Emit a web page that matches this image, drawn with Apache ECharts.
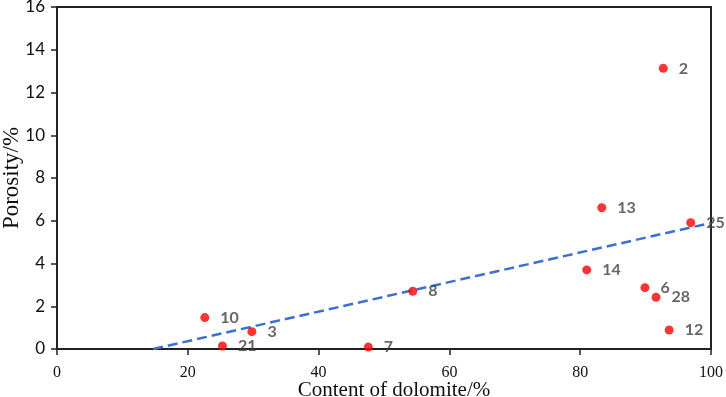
<!DOCTYPE html>
<html>
<head>
<meta charset="utf-8">
<script src="https://cdn.jsdelivr.net/npm/echarts@6/dist/echarts.min.js"></script>
<style>
  html, body { margin: 0; padding: 0; background: #fff; }
  #chart { width: 726px; height: 397px; }
</style>
</head>
<body>
<div id="chart"></div>
<script>
// sample numbers shown next to each dot
var sampleNames = ['2', '13', '25', '14', '6', '28', '12', '8', '7', '3', '10', '21'];
// dolomite content (%)
var dolomite = [92.7, 83.3, 96.9, 81.0, 89.9, 91.6, 93.6, 54.4, 47.6, 29.8, 22.6, 25.3];
// porosity (%)
var porosity = [13.13, 6.61, 5.91, 3.70, 2.87, 2.42, 0.89, 2.70, 0.09, 0.81, 1.47, 0.14];
// fitted trend line end points
var trendX = [14.7, 100];
var trendY = [0, 5.9];

var chart = echarts.init(document.getElementById('chart'));

var points = dolomite.map(function (x, i) { return [x, porosity[i], sampleNames[i]]; });
var trend = trendX.map(function (x, i) { return [x, trendY[i]]; });

chart.setOption({
  animation: false,
  grid: {
    left: 57, right: 15, top: 7, bottom: 48,
    outerBoundsMode: 'none',
    containLabel: false,
    show: true, borderColor: '#222', borderWidth: 2
  },
  xAxis: {
    type: 'value',
    min: 0, max: 100, interval: 20,
    name: 'Content of dolomite/%',
    nameLocation: 'middle',
    nameGap: 31,
    nameMoveOverlap: false,
    nameTextStyle: { fontFamily: 'Liberation Serif', fontSize: 21, color: '#111', padding: [0, 0, 0, 20] },
    axisLine: { lineStyle: { color: '#222', width: 2 } },
    axisTick: { show: true, length: 6, lineStyle: { color: '#222', width: 1.5 } },
    axisLabel: { margin: 16, fontFamily: 'Liberation Serif', fontSize: 16, color: '#111' },
    splitLine: { show: false }
  },
  yAxis: {
    type: 'value',
    min: 0, max: 16, interval: 2,
    name: 'Porosity/%',
    nameLocation: 'middle',
    nameGap: 34,
    nameMoveOverlap: false,
    nameTextStyle: { fontFamily: 'Liberation Serif', fontSize: 23, color: '#111' },
    axisLine: { show: true, lineStyle: { color: '#222', width: 2 } },
    axisTick: { show: true, length: 6, lineStyle: { color: '#222', width: 1.5 } },
    axisLabel: { margin: 12, fontFamily: 'Lato', fontSize: 17, color: '#111' },
    splitLine: { show: false }
  },
  series: [
    {
      type: 'line',
      data: trend,
      symbol: 'none',
      lineStyle: { color: '#3b6fd6', width: 2.5, type: [10, 5] },
      z: 1
    },
    {
      type: 'scatter',
      data: points,
      symbol: 'circle',
      symbolSize: 9,
      itemStyle: { color: '#ff0000' },
      label: {
        show: true,
        position: 'right',
        distance: 11,
        formatter: function (p) { return p.value[2]; },
        fontFamily: 'Lato',
        fontWeight: 'bold',
        fontSize: 16,
        color: '#404040'
      },
      z: 2
    }
  ]
});
</script>
</body>
</html>
